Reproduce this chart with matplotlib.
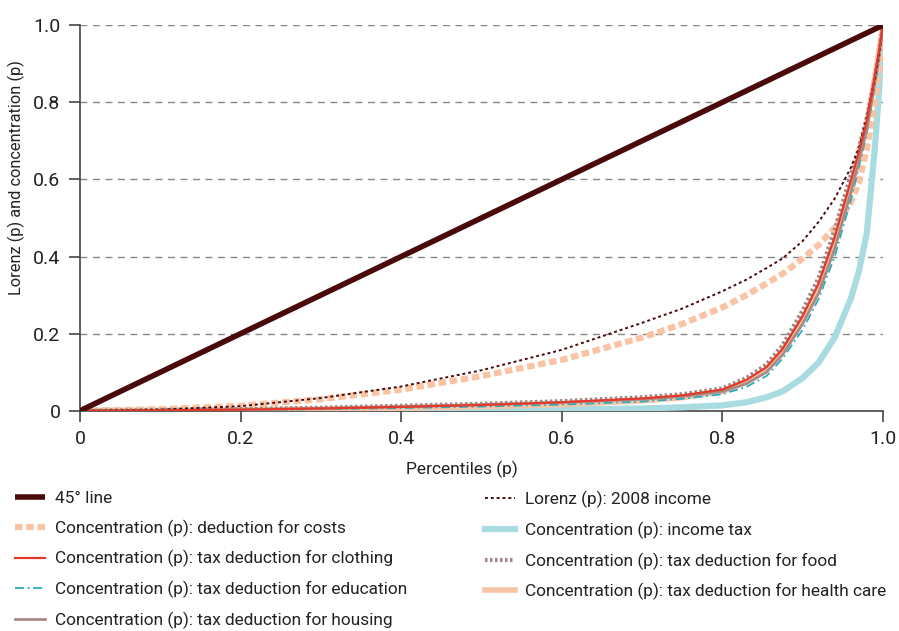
import numpy as np
import matplotlib
matplotlib.use("Agg")
import matplotlib.pyplot as plt

plt.rcParams['font.family'] = ['Roboto', 'DejaVu Sans']

# percentiles grid shared by all curves
p = [0, 0.1, 0.2, 0.3, 0.4, 0.5, 0.6, 0.7, 0.75, 0.8, 0.83, 0.855, 0.875,
     0.9, 0.92, 0.94, 0.96, 0.97, 0.98, 0.99, 0.995, 1.0]

line45 = [0, 1]
lorenz = [0, 0.003, 0.012, 0.033, 0.063, 0.105, 0.158, 0.228, 0.265, 0.31, 0.34,
          0.37, 0.395, 0.44, 0.49, 0.55, 0.63, 0.68, 0.76, 0.86, 0.92, 1.0]
costs = [0, 0.004, 0.013, 0.03, 0.055, 0.09, 0.132, 0.19, 0.225, 0.268, 0.30,
         0.33, 0.355, 0.395, 0.43, 0.475, 0.54, 0.59, 0.68, 0.80, 0.88, 1.0]
clothing = [0, 0.001, 0.003, 0.006, 0.010, 0.015, 0.022, 0.032, 0.04, 0.055, 0.08,
            0.113, 0.16, 0.245, 0.33, 0.45, 0.595, 0.67, 0.75, 0.87, 0.93, 1.0]
education = [0, 0.001, 0.002, 0.004, 0.007, 0.011, 0.016, 0.024, 0.031, 0.043, 0.062,
             0.09, 0.135, 0.21, 0.29, 0.40, 0.545, 0.63, 0.72, 0.84, 0.91, 1.0]
housing = [0, 0.001, 0.003, 0.006, 0.011, 0.016, 0.022, 0.03, 0.037, 0.05, 0.07,
           0.10, 0.145, 0.225, 0.305, 0.42, 0.565, 0.645, 0.73, 0.85, 0.92, 1.0]
income_tax = [0, 0, 0, 0.0005, 0.001, 0.002, 0.003, 0.006, 0.009, 0.014, 0.022,
              0.035, 0.05, 0.085, 0.125, 0.19, 0.29, 0.36, 0.46, 0.68, 0.82, 1.0]
food = [0, 0.002, 0.004, 0.008, 0.013, 0.018, 0.025, 0.035, 0.043, 0.058, 0.085,
        0.12, 0.17, 0.26, 0.345, 0.47, 0.61, 0.68, 0.76, 0.86, 0.92, 1.0]
health = [0, 0.001, 0.002, 0.004, 0.007, 0.011, 0.016, 0.026, 0.034, 0.05, 0.075,
          0.108, 0.155, 0.24, 0.32, 0.44, 0.585, 0.66, 0.745, 0.865, 0.93, 1.0]

ticks = [0, 0.2, 0.4, 0.6, 0.8, 1.0]
tick_labels = ["0", "0.2", "0.4", "0.6", "0.8", "1.0"]

fig = plt.figure(figsize=(8.99, 6.31), dpi=100)
ax = fig.add_axes([0.089, 0.349, 0.893, 0.611])

h45, = ax.plot(line45, line45, color="#4a0a0a", lw=4, zorder=10, solid_capstyle="butt")
hcost, = ax.plot(p, costs, color="#f9c3a4", lw=4.5, ls=(0, (1.2, 0.6)), zorder=4)
hcloth, = ax.plot(p, clothing, color="#e4382a", lw=1.6, zorder=8)
hedu, = ax.plot(p, education, color="#27aebd", lw=1.3, ls=(0, (5, 2, 1, 2)), zorder=6)
hhouse, = ax.plot(p, housing, color="#a88a84", lw=2, zorder=6)
hlor, = ax.plot(p, lorenz, color="#4a0a0a", lw=1.4, ls=(0, (1.5, 1.5)), zorder=7)
htax, = ax.plot(p, income_tax, color="#a9dce1", lw=4.5, zorder=3)
hfood, = ax.plot(p, food, color="#9e8782", lw=3, ls=(0, (0.6, 0.6)), zorder=5)
hhealth, = ax.plot(p, health, color="#f8c4a6", lw=4, zorder=4)

ax.set_xlim(0, 1)
ax.set_ylim(0, 1)
ax.set_xticks(ticks)
ax.set_xticklabels(tick_labels)
ax.set_yticks(ticks)
ax.set_yticklabels(tick_labels)
for t in ticks[1:]:
    ax.axhline(t, color="#888888", lw=1, ls=(0, (5, 4)), zorder=1)

for s in ["top", "right"]:
    ax.spines[s].set_visible(False)
for s in ["left", "bottom"]:
    ax.spines[s].set_color("#444444")
    ax.spines[s].set_linewidth(1.2)
ax.tick_params(direction="out", length=8, width=1.2, color="#444444",
               labelsize=14, labelcolor="#222222", pad=6)

ax.set_xlabel("Percentiles (p)", fontsize=12.5, color="#222222")
ax.set_ylabel("Lorenz (p) and concentration (p)", fontsize=11.8, color="#222222")
ax.xaxis.set_label_coords(0.476, -0.13)
ax.yaxis.set_label_coords(-0.068, 0.604)

handles = [h45, hcost, hcloth, hedu, hhouse, hlor, htax, hfood, hhealth]
labels = ["45° line",
          "Concentration (p): deduction for costs",
          "Concentration (p): tax deduction for clothing",
          "Concentration (p): tax deduction for education",
          "Concentration (p): tax deduction for housing",
          "Lorenz (p): 2008 income",
          "Concentration (p): income tax",
          "Concentration (p): tax deduction for food",
          "Concentration (p): tax deduction for health care"]
opts = dict(loc="upper left", frameon=False, fontsize=12.4, borderpad=0,
            borderaxespad=0, handlelength=1.75, handletextpad=0.6,
            labelspacing=0.78)
leg1 = fig.legend(handles[:5], labels[:5], bbox_to_anchor=(15 / 899, 1 - 491 / 631), **opts)
leg2 = fig.legend(handles[5:], labels[5:], bbox_to_anchor=(485 / 899, 1 - 491 / 631), **opts)
for leg in (leg1, leg2):
    for t in leg.get_texts():
        t.set_color("#222222")

fig.savefig("out.png", dpi=100)
